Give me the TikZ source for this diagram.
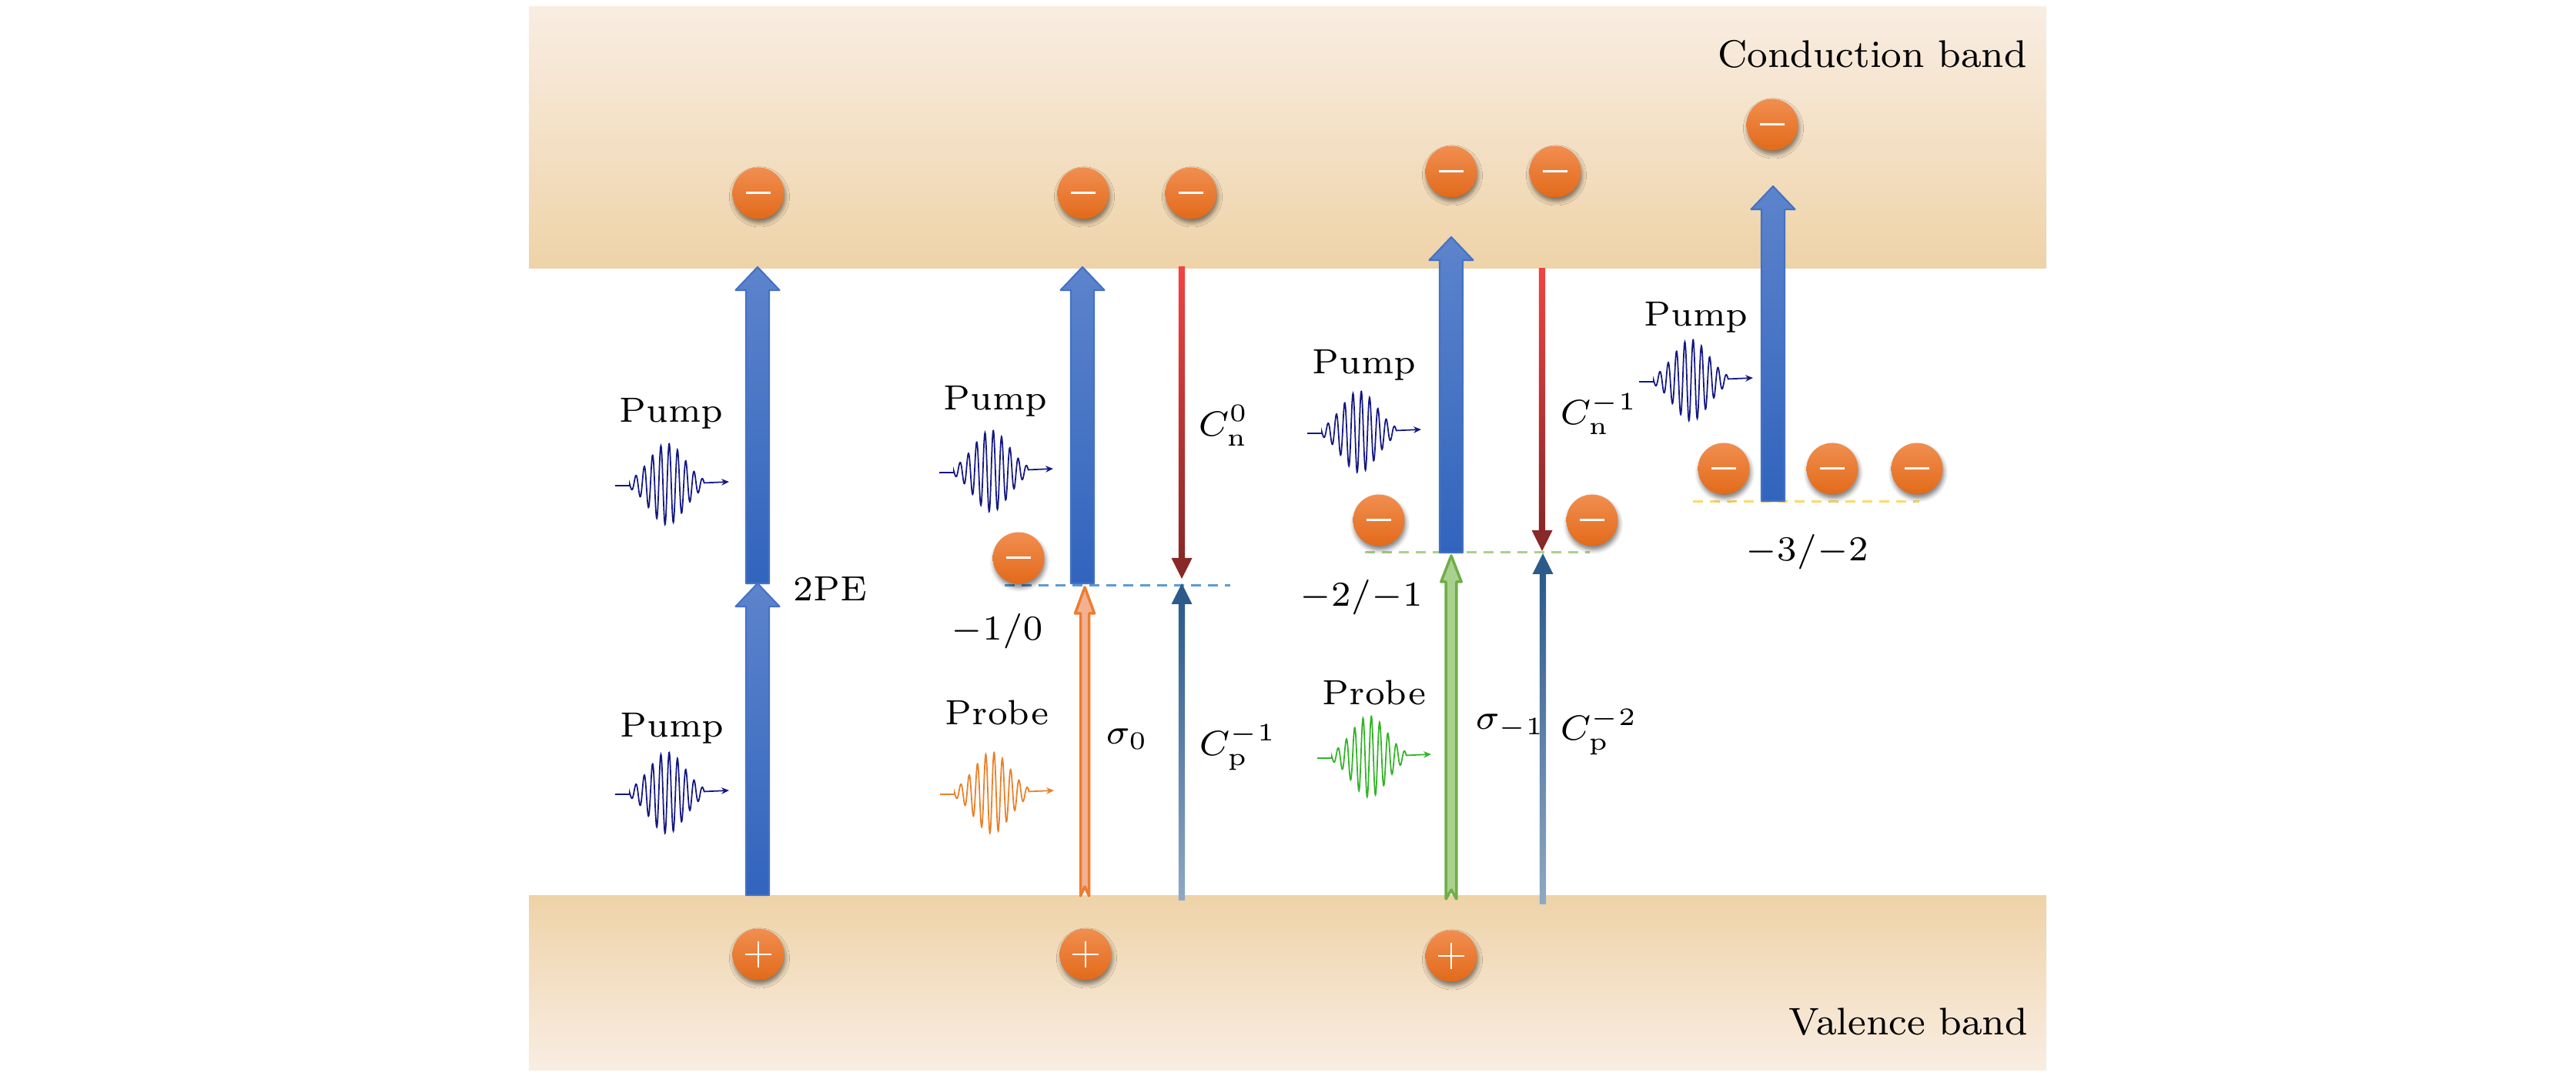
\documentclass[tikz,border=0pt]{standalone}
\usepackage{xcolor}
\usetikzlibrary{positioning, arrows.meta, calc, shadows.blur}

\definecolor{bandDark}{RGB}{238,211,168}
\definecolor{bandLight}{RGB}{249,237,226}
\definecolor{pumpTop}{RGB}{93,132,204}
\definecolor{pumpBot}{RGB}{49,100,189}
\definecolor{pumpEdge}{RGB}{68,114,196}
\definecolor{elecTop}{RGB}{241,142,80}
\definecolor{elecBot}{RGB}{226,106,26}
\definecolor{capnTop}{RGB}{240,68,68}
\definecolor{capnBot}{RGB}{136,40,40}
\definecolor{cappTop}{RGB}{44,90,138}
\definecolor{cappBot}{RGB}{143,168,196}
\definecolor{probeOr}{RGB}{237,125,49}
\definecolor{probeOrFill}{RGB}{244,177,146}
\definecolor{probeGr}{RGB}{112,173,71}
\definecolor{probeGrFill}{RGB}{169,209,142}
\definecolor{levBlue}{RGB}{91,155,213}
\definecolor{levGreen}{RGB}{169,209,142}
\definecolor{levYellow}{RGB}{255,217,102}
\definecolor{waveNavy}{RGB}{20,24,130}
\definecolor{waveOr}{RGB}{234,128,40}
\definecolor{waveGr}{RGB}{50,180,40}

% thick pump arrow: #1 tail, #2 tip
\newcommand{\pumparrow}[2]{%
  \path[top color=pumpTop, bottom color=pumpBot, draw=pumpEdge, line width=0.6pt, line join=round]
    ($(#1)+(-0.15,0)$) -- ($(#2)+(-0.15,-0.30)$) -- ($(#2)+(-0.285,-0.30)$) -- (#2)
    -- ($(#2)+(0.285,-0.30)$) -- ($(#2)+(0.15,-0.30)$) -- ($(#1)+(0.15,0)$) -- cycle;}

% thin capture arrow: #1 tail, #2 tip, #3 top colour, #4 bottom colour, #5 head colour
\newcommand{\caparrow}[5]{%
  \coordinate (hb) at ($(#2)!0.27cm!(#1)$);
  \path[top color=#3, bottom color=#4]
    ($(#1)+(-0.042,0)$) -- ($(hb)+(-0.042,0)$) -- ($(hb)+(0.042,0)$) -- ($(#1)+(0.042,0)$) -- cycle;
  \fill[#5] ($(hb)+(-0.135,0)$) -- (#2) -- ($(hb)+(0.135,0)$) -- cycle;}

% hollow probe arrow: #1 tail, #2 tip, #3 edge, #4 fill, #5 half body, #6 half head
\newcommand{\probearrow}[6]{%
  \path[draw=#3, fill=#4, line width=0.035cm, line join=round]
    ($(#1)+(-#5,0)$) -- ($(#2)+(-#5,-0.34)$) -- ($(#2)+(-#6,-0.34)$) -- (#2)
    -- ($(#2)+(#6,-0.34)$) -- ($(#2)+(#5,-0.34)$) -- ($(#1)+(#5,0)$) -- ($(#1)+(0,0.12)$) -- cycle;}

\tikzset{
  carrier/.style={circle, minimum size=0.67cm, inner sep=0pt, top color=elecTop, bottom color=elecBot,
    blur shadow={shadow xshift=0.4pt, shadow yshift=-1.4pt, shadow blur radius=1.6pt, shadow opacity=50}},
  electron/.style={carrier, path picture={\draw[white, line width=0.03cm]
      ([xshift=-0.16cm]path picture bounding box.center) -- ([xshift=0.16cm]path picture bounding box.center);}},
  hole/.style={carrier, path picture={\draw[white, line width=0.025cm]
      ([xshift=-0.17cm]path picture bounding box.center) -- ([xshift=0.17cm]path picture bounding box.center)
      ([yshift=-0.17cm]path picture bounding box.center) -- ([yshift=0.17cm]path picture bounding box.center);}},
  level/.style={line width=0.03cm, dash pattern=on 0.13cm off 0.09cm},
  lab/.style={font=\fontsize{7}{8.4}\selectfont, scale=1.85, inner sep=0pt, anchor=base},
  bandlab/.style={font=\fontsize{8}{9.6}\selectfont, scale=1.78, inner sep=0pt, anchor=base east},
  pics/pulse/.style={code={
    \draw[#1, line width=0.5pt, -{Stealth[length=2.8pt, width=2.4pt]}]
      (-0.74,-0.02) -- (-0.55,-0.02)
      -- plot[domain=-0.485:0.485, samples=240] ({\x-0.065}, {0.53*exp(-9.5*(\x)*(\x))*sin(3333*(\x))})
      -- (0.74,0.03);}}
}

\begin{document}
\begin{tikzpicture}

\useasboundingbox (0,0) rectangle (33.46,13.98);

% Bands
\shade[top color=bandLight, bottom color=bandDark] (6.87,10.49) rectangle (26.58,13.89);
\shade[top color=bandDark, bottom color=bandLight] (6.87,0.07) rectangle (26.58,2.34);
\node[bandlab] (cband) at (26.34,13.10) {Conduction band};
\node[bandlab] (vband) at (26.35,0.53) {Valence band};

% Levels
\coordinate (lev2a) at (13.05,6.37); \coordinate (lev2b) at (15.98,6.37);
\coordinate (lev3a) at (17.73,6.80); \coordinate (lev3b) at (20.65,6.80);
\coordinate (lev4a) at (21.99,7.46); \coordinate (lev4b) at (24.93,7.46);
\draw[level, levBlue] (lev2a) -- (lev2b);
\draw[level, levGreen] (lev3a) -- (lev3b);
\draw[level, levYellow] (lev4a) -- (lev4b);

% Column 1: two-photon excitation
\coordinate (vb1) at (9.84,2.35);
\coordinate (mid1) at (9.84,6.40);
\coordinate (cb1) at (9.84,10.51);
\pumparrow{vb1}{mid1}
\pumparrow{mid1}{cb1}

% Column 2
\coordinate (pt2) at (14.06,6.40);
\coordinate (pc2) at (14.06,10.51);
\coordinate (ot2) at (14.09,2.34);
\coordinate (oh2) at (14.09,6.35);
\coordinate (nt2) at (15.35,10.51);
\coordinate (nh2) at (15.35,6.46);
\coordinate (qt2) at (15.35,2.28);
\coordinate (qh2) at (15.35,6.40);
\pumparrow{pt2}{pc2}
\probearrow{ot2}{oh2}{probeOr}{probeOrFill}{0.055}{0.125}
\caparrow{nt2}{nh2}{capnTop}{capnBot}{capnBot}
\caparrow{qt2}{qh2}{cappTop}{cappBot}{cappTop}

% Column 3
\coordinate (pt3) at (18.85,6.80);
\coordinate (pc3) at (18.85,10.90);
\coordinate (gt3) at (18.85,2.30);
\coordinate (gh3) at (18.85,6.76);
\coordinate (nt3) at (20.03,10.49);
\coordinate (nh3) at (20.03,6.82);
\coordinate (qt3) at (20.04,2.23);
\coordinate (qh3) at (20.04,6.79);
\pumparrow{pt3}{pc3}
\probearrow{gt3}{gh3}{probeGr}{probeGrFill}{0.068}{0.132}
\caparrow{nt3}{nh3}{capnTop}{capnBot}{capnBot}
\caparrow{qt3}{qh3}{cappTop}{cappBot}{cappTop}

% Column 4
\coordinate (pt4) at (23.03,7.47);
\coordinate (pc4) at (23.03,11.56);
\pumparrow{pt4}{pc4}

% Electrons and holes
\node[electron] (e1) at (9.85,11.47) {};
\node[electron] (e2) at (14.07,11.47) {};
\node[electron] (e3) at (15.47,11.47) {};
\node[electron] (e4) at (18.85,11.75) {};
\node[electron] (e5) at (20.20,11.75) {};
\node[electron] (e6) at (23.02,12.36) {};
\node[electron] (e7) at (13.23,6.73) {};
\node[electron] (e8) at (17.91,7.22) {};
\node[electron] (e9) at (20.68,7.22) {};
\node[electron] (e10) at (22.39,7.89) {};
\node[electron] (e11) at (23.80,7.89) {};
\node[electron] (e12) at (24.90,7.89) {};
\node[hole] (h1) at (9.85,1.58) {};
\node[hole] (h2) at (14.10,1.58) {};
\node[hole] (h3) at (18.85,1.56) {};

% Pulses
\pic at (8.73,7.69) {pulse=waveNavy};
\pic at (8.73,3.68) {pulse=waveNavy};
\pic at (12.94,7.86) {pulse=waveNavy};
\pic at (12.95,3.68) {pulse=waveOr};
\pic at (17.72,8.37) {pulse=waveNavy};
\pic at (17.85,4.15) {pulse=waveGr};
\pic at (22.03,9.04) {pulse=waveNavy};

% Labels
\node[lab] (pump1) at (8.72,8.49) {Pump};
\node[lab] (pump2) at (8.73,4.40) {Pump};
\node[lab] (pump3) at (12.93,8.65) {Pump};
\node[lab] (pump4) at (17.72,9.12) {Pump};
\node[lab] (pump5) at (22.03,9.74) {Pump};
\node[lab] (probe1) at (12.95,4.56) {Probe};
\node[lab] (probe2) at (17.85,4.82) {Probe};
\node[lab, anchor=base west] (tpe) at (10.29,6.17) {2PE};
\node[lab] (st1) at (12.95,5.66) {$-1/0$};
\node[lab] (st2) at (17.68,6.10) {$-2/{-1}$};
\node[lab] (st3) at (23.47,6.69) {$-3/{-2}$};
\node[lab, anchor=base west] (sig0) at (14.35,4.31) {$\sigma_0$};
\node[lab, anchor=base west] (cp1) at (15.56,4.16) {$C_{\mathrm{p}}^{-1}$};
\node[lab, anchor=base west] (cn0) at (15.55,8.31) {$C_{\mathrm{n}}^{0}$};
\node[lab, anchor=base west] (sig1) at (19.15,4.50) {$\sigma_{-1}$};
\node[lab, anchor=base west] (cp2) at (20.25,4.36) {$C_{\mathrm{p}}^{-2}$};
\node[lab, anchor=base west] (cn1) at (20.25,8.46) {$C_{\mathrm{n}}^{-1}$};

\end{tikzpicture}
\end{document}
